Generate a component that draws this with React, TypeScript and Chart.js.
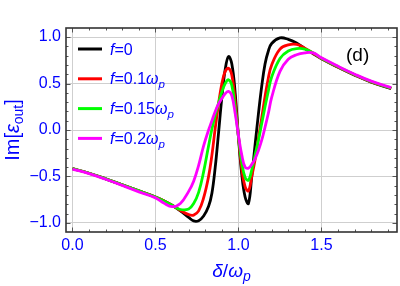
import React, { useEffect, useRef } from "react";
import { Chart, registerables } from "chart.js";

Chart.register(...registerables);

// δ/ω_p sample positions
const xValues = [0, 0.1, 0.2, 0.3, 0.4, 0.5, 0.55, 0.6, 0.65, 0.7, 0.73, 0.76, 0.79, 0.82, 0.84, 0.86, 0.88, 0.9, 0.92, 0.94, 0.96, 0.98, 1.0, 1.02, 1.04, 1.06, 1.08, 1.1, 1.12, 1.14, 1.16, 1.18, 1.2, 1.25, 1.3, 1.35, 1.4, 1.45, 1.5, 1.6, 1.7, 1.8, 1.92];

// f = 0
const seriesF0 = [-0.415, -0.465, -0.525, -0.59, -0.655, -0.72, -0.76, -0.81, -0.87, -0.94, -0.978, -0.975, -0.925, -0.82, -0.68, -0.4, -0.03, 0.35, 0.65, 0.79, 0.71, 0.4, -0.08, -0.48, -0.72, -0.79, -0.5, -0.16, 0.17, 0.47, 0.71, 0.85, 0.93, 0.99, 0.975, 0.935, 0.875, 0.82, 0.765, 0.675, 0.59, 0.515, 0.445];
// f = 0.1 ω_p
const seriesF01 = [-0.415, -0.465, -0.525, -0.59, -0.655, -0.72, -0.76, -0.81, -0.865, -0.91, -0.915, -0.87, -0.73, -0.5, -0.27, 0.02, 0.28, 0.5, 0.63, 0.665, 0.59, 0.31, -0.07, -0.42, -0.61, -0.655, -0.5, -0.32, -0.09, 0.13, 0.36, 0.56, 0.7, 0.87, 0.915, 0.92, 0.88, 0.825, 0.768, 0.678, 0.593, 0.518, 0.448];
// f = 0.15 ω_p
const seriesF015 = [-0.415, -0.465, -0.525, -0.59, -0.655, -0.722, -0.765, -0.81, -0.855, -0.85, -0.79, -0.67, -0.45, -0.17, 0.01, 0.16, 0.29, 0.41, 0.5, 0.54, 0.48, 0.24, -0.07, -0.35, -0.51, -0.54, -0.43, -0.27, -0.11, 0.07, 0.25, 0.42, 0.57, 0.77, 0.85, 0.875, 0.87, 0.83, 0.772, 0.68, 0.595, 0.52, 0.45];
// f = 0.2 ω_p
const seriesF02 = [-0.42, -0.47, -0.53, -0.595, -0.665, -0.73, -0.785, -0.825, -0.79, -0.66, -0.55, -0.38, -0.17, 0.0, 0.1, 0.2, 0.28, 0.34, 0.39, 0.415, 0.37, 0.18, -0.06, -0.27, -0.4, -0.41, -0.37, -0.31, -0.22, -0.11, 0.03, 0.18, 0.35, 0.63, 0.76, 0.81, 0.83, 0.83, 0.776, 0.685, 0.6, 0.525, 0.455];

const seriesColors = ["#000000", "#ff0000", "#00ff00", "#ff00ff"];
const legendNumbers = ["0", "0.1", "0.15", "0.2"];
const legendHasOmega = [false, true, true, true];

const xTicks = [0, 0.5, 1.0, 1.5];
const yTicks = [-1.0, -0.5, 0, 0.5, 1.0];
const xMinorStep = 0.1;
const yMinorStep = 0.1;

const BLUE = "#0000ff";
const FONT = "'Liberation Sans', Arial, sans-serif";

function drawPieces(
  ctx: CanvasRenderingContext2D,
  pieces: { t: string; size: number; italic?: boolean; dy?: number }[],
  x: number,
  y: number,
  align: "left" | "center"
) {
  const setFont = (p: any) => {
    ctx.font = `${p.italic ? "italic " : ""}${p.size}px ${FONT}`;
  };
  let total = 0;
  pieces.forEach((p) => {
    setFont(p);
    total += ctx.measureText(p.t).width;
  });
  let cx = align === "center" ? x - total / 2 : x;
  pieces.forEach((p) => {
    setFont(p);
    ctx.fillText(p.t, cx, y + (p.dy || 0));
    cx += ctx.measureText(p.t).width;
  });
}

const decorPlugin = {
  id: "decor",
  afterDatasetsDraw(chart: any) {
    const { ctx, chartArea: a, scales } = chart;
    const xs = scales.x;
    const ys = scales.y;
    ctx.save();
    ctx.strokeStyle = "#555";
    ctx.lineWidth = 1;
    ctx.beginPath();
    const xStart = Math.ceil(xs.min / xMinorStep);
    const xEnd = Math.floor(xs.max / xMinorStep);
    for (let i = xStart; i <= xEnd; i++) {
      const v = i * xMinorStep;
      const px = Math.round(xs.getPixelForValue(v)) + 0.5;
      const len = i % 5 === 0 ? 4.5 : 2.5;
      ctx.moveTo(px, a.bottom);
      ctx.lineTo(px, a.bottom - len);
      ctx.moveTo(px, a.top);
      ctx.lineTo(px, a.top + len);
    }
    const yStart = Math.ceil(ys.min / yMinorStep);
    const yEnd = Math.floor(ys.max / yMinorStep);
    for (let i = yStart; i <= yEnd; i++) {
      const v = i * yMinorStep;
      const py = Math.round(ys.getPixelForValue(v)) + 0.5;
      const len = i % 5 === 0 ? 4.5 : 2.5;
      ctx.moveTo(a.left, py);
      ctx.lineTo(a.left + len, py);
      ctx.moveTo(a.right, py);
      ctx.lineTo(a.right - len, py);
    }
    ctx.stroke();
    ctx.strokeStyle = "#333";
    ctx.lineWidth = 1.6;
    ctx.strokeRect(a.left, a.top, a.right - a.left, a.bottom - a.top);
    ctx.restore();
  },
  afterDraw(chart: any) {
    const { ctx, chartArea: a } = chart;
    ctx.save();
    ctx.textBaseline = "alphabetic";
    chart.data.datasets.forEach((ds: any, i: number) => {
      const ly = 49 + i * 29.8;
      ctx.strokeStyle = ds.borderColor;
      ctx.lineWidth = 3;
      ctx.beginPath();
      ctx.moveTo(78, ly);
      ctx.lineTo(102, ly);
      ctx.stroke();
      ctx.fillStyle = BLUE;
      const pieces: any[] = [
        { t: "f", size: 16, italic: true },
        { t: "=" + legendNumbers[i], size: 16 },
      ];
      if (legendHasOmega[i]) {
        pieces.push({ t: "ω", size: 16, italic: true });
        pieces.push({ t: "p", size: 11.5, italic: true, dy: 4 });
      }
      drawPieces(ctx, pieces, 110, ly + 5.5, "left");
    });
    ctx.fillStyle = "#000";
    ctx.font = `19px ${FONT}`;
    ctx.fillText("(d)", 346, 61);
    ctx.fillStyle = BLUE;
    drawPieces(
      ctx,
      [
        { t: "δ", size: 19, italic: true },
        { t: "/", size: 19 },
        { t: "ω", size: 19, italic: true },
        { t: "p", size: 14, italic: true, dy: 4 },
      ],
      (a.left + a.right) / 2,
      277,
      "center"
    );
    ctx.translate(19, (a.top + a.bottom) / 2);
    ctx.rotate(-Math.PI / 2);
    drawPieces(
      ctx,
      [
        { t: "Im[", size: 20 },
        { t: "ε", size: 20, italic: true },
        { t: "out", size: 14, dy: 4 },
        { t: "]", size: 20 },
      ],
      0,
      0,
      "center"
    );
    ctx.restore();
  },
};

export default function App() {
  const ref = useRef<HTMLCanvasElement | null>(null);
  useEffect(() => {
    if (!ref.current) return;
    const seriesList = [seriesF0, seriesF01, seriesF015, seriesF02];
    const labels = ["f=0", "f=0.1ωp", "f=0.15ωp", "f=0.2ωp"];
    const chart = new Chart(ref.current, {
      type: "line",
      data: {
        datasets: seriesList.map((s, i) => ({
          label: labels[i],
          data: s.map((y, j) => ({ x: xValues[j], y })),
          borderColor: seriesColors[i],
          backgroundColor: seriesColors[i],
          borderWidth: 2.8,
          pointRadius: 0,
          fill: false,
          tension: 0.4,
          order: 4 - i,
        })),
      },
      options: {
        responsive: false,
        animation: false,
        devicePixelRatio: 1,
        layout: { padding: { top: 28, right: 3, left: 0, bottom: 0 } },
        plugins: { legend: { display: false }, tooltip: { enabled: false } },
        scales: {
          x: {
            type: "linear",
            min: -0.039,
            max: 1.955,
            afterFit: (s: any) => {
              s.height = 54;
            },
            afterBuildTicks: (s: any) => {
              s.ticks = xTicks.map((v) => ({ value: v }));
            },
            ticks: {
              color: BLUE,
              font: { family: FONT, size: 16 },
              padding: 4,
              maxRotation: 0,
              autoSkip: false,
              callback: (v: any) => Number(v).toFixed(1),
            },
            grid: { color: "#cfcfcf", lineWidth: 1, drawTicks: false },
            border: { display: false },
          },
          y: {
            type: "linear",
            min: -1.097,
            max: 1.097,
            afterFit: (s: any) => {
              s.width = 66;
            },
            afterBuildTicks: (s: any) => {
              s.ticks = yTicks.map((v) => ({ value: v }));
            },
            ticks: {
              color: BLUE,
              font: { family: FONT, size: 16 },
              padding: 5,
              autoSkip: false,
              callback: (v: any) => {
                const n = Number(v);
                const s = Math.abs(n).toFixed(1);
                return n < 0 ? "\u2212" + s : s;
              },
            },
            grid: { color: "#cfcfcf", lineWidth: 1, drawTicks: false },
            border: { display: false },
          },
        },
      },
      plugins: [decorPlugin],
    });
    return () => chart.destroy();
  }, []);
  return (
    <div style={{ position: "fixed", left: 0, top: 0, width: 400, height: 286, background: "#fff" }}>
      <canvas ref={ref} width={400} height={286} style={{ display: "block" }} />
    </div>
  );
}
